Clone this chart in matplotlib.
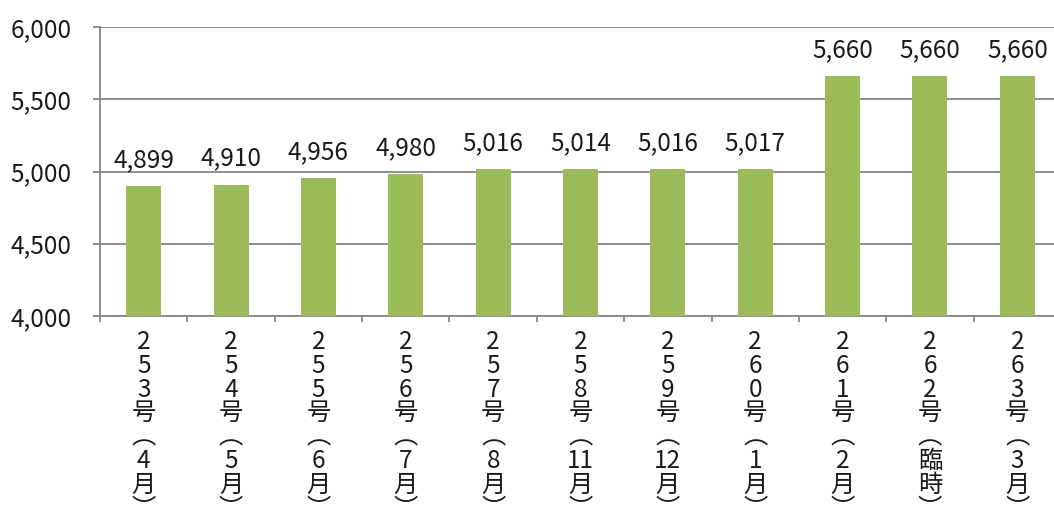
import matplotlib
matplotlib.use('Agg')
import matplotlib.pyplot as plt
import numpy as np

# Data
issues = ['253', '254', '255', '256', '257', '258', '259', '260', '261', '262', '263']
months = ['4月', '5月', '6月', '7月', '8月', '11月', '12月', '1月', '2月', '臨時', '3月']
values = [4899, 4910, 4956, 4980, 5016, 5014, 5016, 5017, 5660, 5660, 5660]

# Style
BAR_COLOR = '#9BBB59'
GRID_COLOR = '#878787'
TEXT_COLOR = '#1a1a1a'
FONT = ['Noto Sans CJK JP', 'DejaVu Sans']
FS = 17.5

plt.rcParams['font.family'] = FONT

W, H = 1054, 507
fig = plt.figure(figsize=(W / 100, H / 100), dpi=100)
fig.patch.set_facecolor('white')

# axes in pixels: left 100, right 1061, top 27, bottom 316
ax = fig.add_axes([100 / W, (H - 316) / H, 961 / W, 289 / H])
ax.set_facecolor('white')

x = np.arange(len(values))
ax.bar(x, values, width=0.4, color=BAR_COLOR, zorder=3)

ax.set_xlim(-0.5, len(values) - 0.5)
ax.set_ylim(4000, 6000)
ax.set_yticks(np.arange(4000, 6001, 500))
ax.yaxis.set_major_formatter(matplotlib.ticker.FuncFormatter(lambda v, p: f'{int(v):,}'))
ax.grid(axis='y', color=GRID_COLOR, linewidth=1.3, zorder=0)
ax.set_axisbelow(True)

for s in ['top', 'right']:
    ax.spines[s].set_visible(False)
for s in ['left', 'bottom']:
    ax.spines[s].set_color(GRID_COLOR)
    ax.spines[s].set_linewidth(1.3)

ax.tick_params(axis='y', length=5, width=1.3, color=GRID_COLOR, pad=15.5,
               labelsize=FS, labelcolor=TEXT_COLOR)
ax.set_xticks(np.arange(-0.5, len(values), 1.0))
ax.set_xticklabels([])
ax.tick_params(axis='x', length=4.5, width=1.3, color=GRID_COLOR)

# value labels
for xi, v in zip(x, values):
    ax.annotate(f'{v:,}', xy=(xi, v), xytext=(0, 13.5), textcoords='offset points',
                ha='center', va='baseline', fontsize=FS, color=TEXT_COLOR)

# vertical category labels
PITCH = 23.8
for xi, num, mon in zip(x, issues, months):
    if mon == '臨時':
        inner = ['臨', '時']
    else:
        inner = [mon[:-1], '月']
    cells = list(num) + ['号', '︵'] + inner + ['︶']
    for k, ch in enumerate(cells):
        dy = (342 - 316) + PITCH * k
        ax.annotate(ch, xy=(xi, 0), xycoords=('data', 'axes fraction'),
                    xytext=(0, -dy * 0.72), textcoords='offset points',
                    ha='center', va='center', fontsize=FS, color=TEXT_COLOR,
                    annotation_clip=False)

fig.savefig('out.png', dpi=100, facecolor='white')
